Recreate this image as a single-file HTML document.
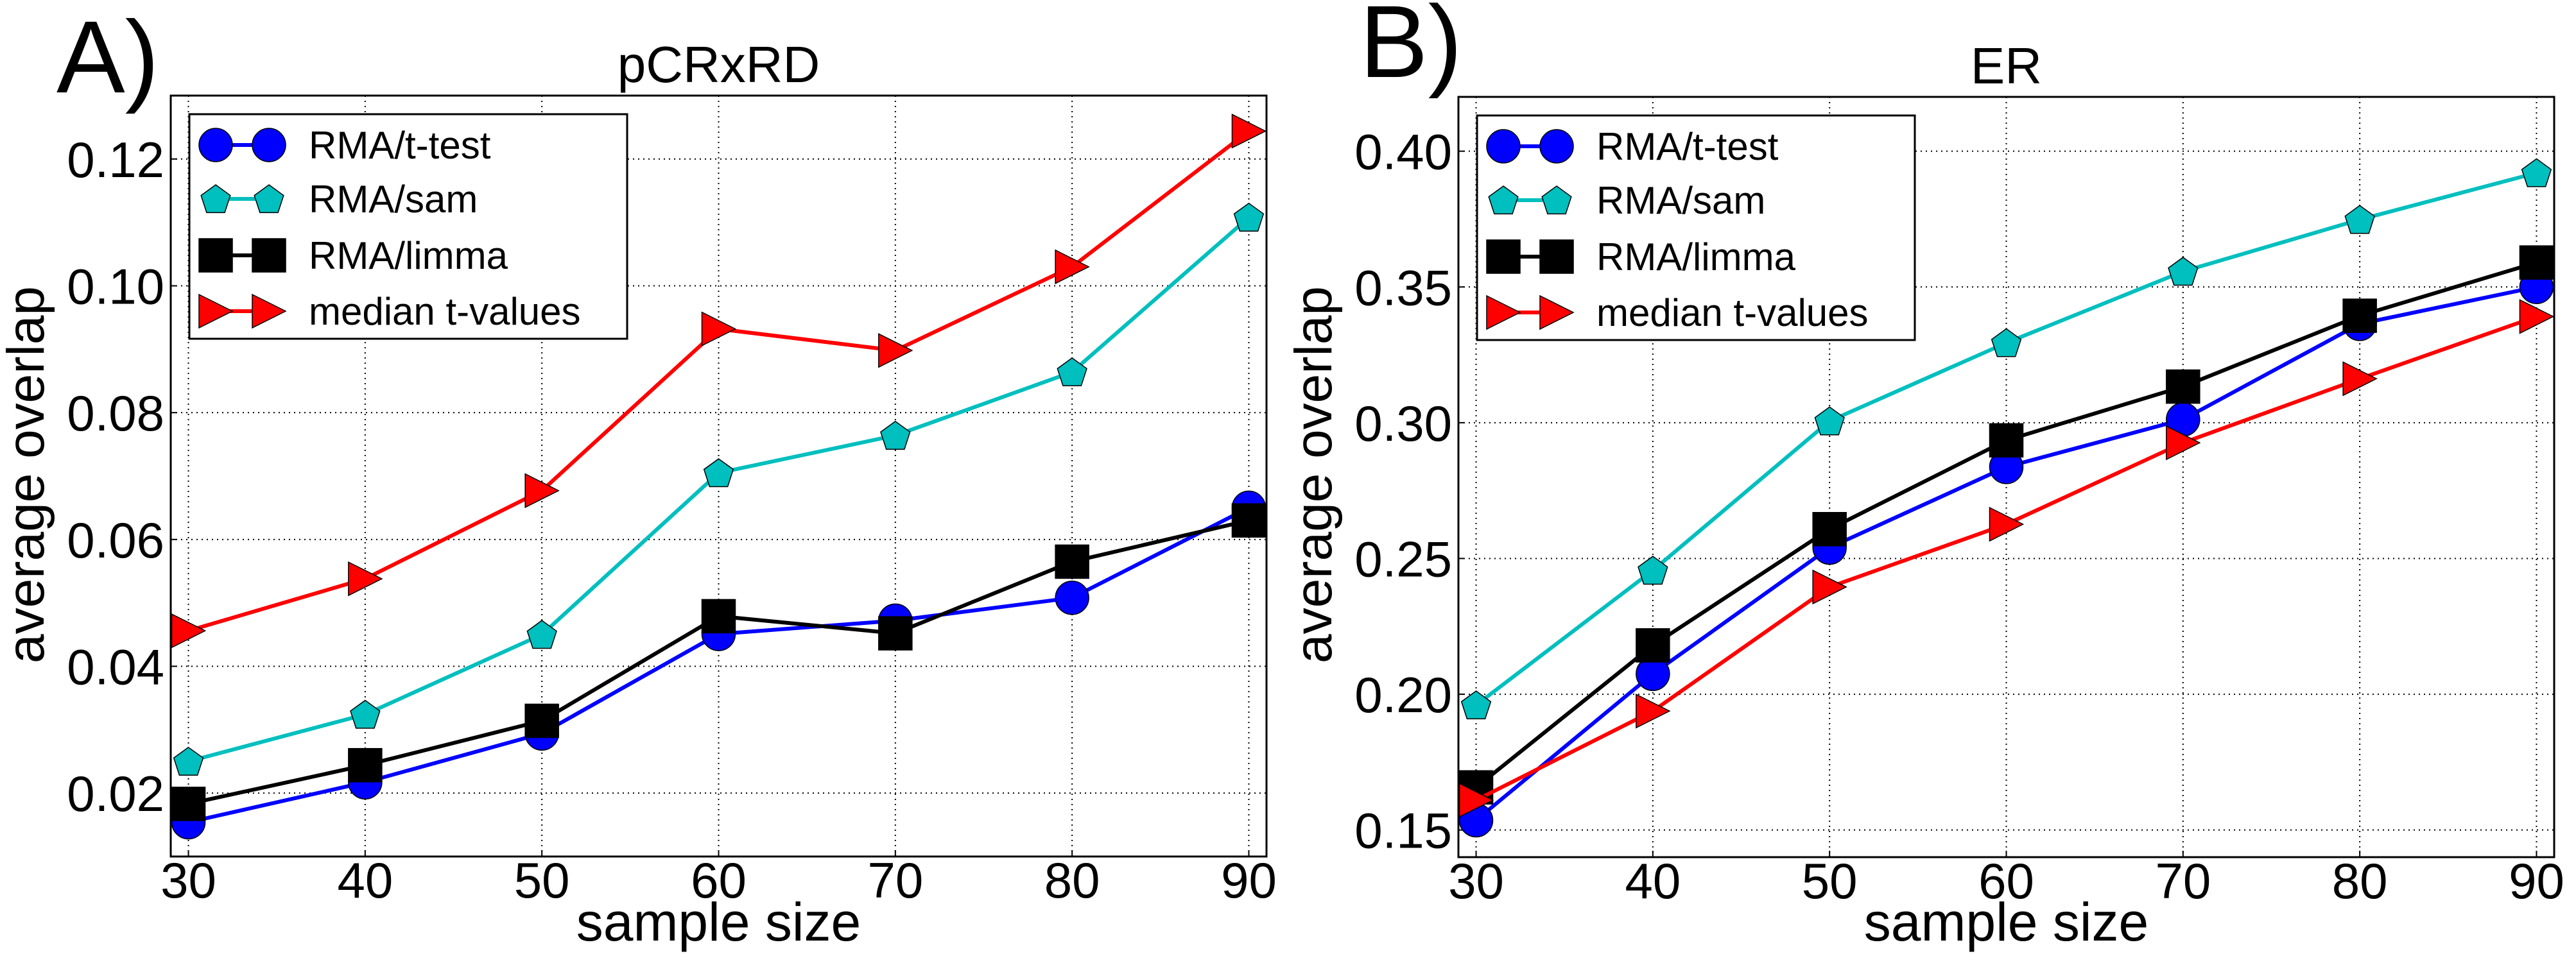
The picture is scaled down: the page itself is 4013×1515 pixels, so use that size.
<!DOCTYPE html>
<html><head><meta charset="utf-8">
<style>
html,body{margin:0;padding:0;background:#fff;}
svg{display:block;font-family:"Liberation Sans","DejaVu Sans",sans-serif;}
</style></head>
<body>
<svg id="fig" width="4013" height="1515" viewBox="0 0 4013 1515" xmlns="http://www.w3.org/2000/svg"></svg>
<script>
const xCats = [30, 40, 50, 60, 70, 80, 90];
const seriesNames = ["RMA/t-test", "RMA/sam", "RMA/limma", "median t-values"];
const aTtest = [0.0154, 0.0217, 0.0294, 0.0451, 0.0472, 0.0508, 0.0650];
const aSam = [0.0250, 0.0324, 0.0450, 0.0705, 0.0764, 0.0864, 0.1108];
const aLimma = [0.0183, 0.0244, 0.0314, 0.0479, 0.0452, 0.0565, 0.0630];
const aMedian = [0.0456, 0.0538, 0.0677, 0.0932, 0.0898, 0.1030, 0.1244];
const bTtest = [0.1536, 0.2075, 0.2540, 0.2837, 0.3012, 0.3364, 0.3500];
const bSam = [0.1960, 0.2456, 0.3006, 0.3294, 0.3557, 0.3748, 0.3920];
const bLimma = [0.1657, 0.2180, 0.2608, 0.2935, 0.3133, 0.3394, 0.3590];
const bMedian = [0.1610, 0.1938, 0.2395, 0.2626, 0.2926, 0.3162, 0.3391];
const aYTicks = ["0.02", "0.04", "0.06", "0.08", "0.10", "0.12"];
const bYTicks = ["0.15", "0.20", "0.25", "0.30", "0.35", "0.40"];

const NS = "http://www.w3.org/2000/svg";
const svg = document.getElementById("fig");
function mk(tag, parent, attrs) {
  const e = document.createElementNS(NS, tag);
  for (const k in attrs) e.setAttribute(k, attrs[k]);
  parent.appendChild(e);
  return e;
}
const styles = [
  {color: "#0000ff", marker: "circle"},
  {color: "#00bfbf", marker: "pentagon"},
  {color: "#000000", marker: "square"},
  {color: "#ff0000", marker: "triangle"}
];
function drawMarker(g, type, cx, cy, color) {
  const r = 26;
  let el;
  if (type === "circle") {
    el = mk("ellipse", g, {cx: cx, cy: cy, rx: r, ry: r, fill: color, stroke: "#000", "stroke-width": 1.5});
  } else if (type === "square") {
    el = mk("rect", g, {x: cx - r, y: cy - r, width: 2 * r, height: 2 * r, fill: color, stroke: "#000", "stroke-width": 1.5});
  } else if (type === "pentagon") {
    const pts = [];
    for (let i = 0; i < 5; i++) {
      const a = -Math.PI / 2 + i * 2 * Math.PI / 5;
      pts.push((cx + 24 * Math.cos(a)).toFixed(1) + "," + (cy + 2 + 24 * Math.sin(a)).toFixed(1));
    }
    el = mk("polygon", g, {points: pts.join(" "), fill: color, stroke: "#000", "stroke-width": 1.5});
  } else {
    el = mk("polygon", g, {points: (cx - r) + "," + (cy - r) + " " + (cx + r) + "," + cy + " " + (cx - r) + "," + (cy + r), fill: color, stroke: "#000", "stroke-width": 1.5});
  }
  return el;
}

function panel(cfg) {
  const g = mk("g", svg, {});
  
  
  const L = cfg.left, R = cfg.right, T = cfg.top, B = cfg.bottom;
  const xs = v => L + (v - 29) / 62 * (R - L);
  const ys = v => B - (v - cfg.ymin) / (cfg.ymax - cfg.ymin) * (B - T);
  // grid
  const grid = mk("g", g, {stroke: "#000", "stroke-width": 2, "stroke-dasharray": "2,6"});
  
  
  xCats.forEach(v => mk("line", grid, {x1: xs(v), x2: xs(v), y1: T, y2: B}));
  cfg.yticks.forEach(t => mk("line", grid, {x1: L, x2: R, y1: ys(parseFloat(t)), y2: ys(parseFloat(t))}));
  // tick labels
  xCats.forEach(v => {
    const t = mk("text", g, {x: xs(v), y: B + 64, "font-size": 78, "text-anchor": "middle"});
    
    
    t.textContent = v;
    mk("line", g, {x1: xs(v), x2: xs(v), y1: B, y2: B - 10, stroke: "#000", "stroke-width": 2});
  });
  cfg.yticks.forEach(s => {
    const y = ys(parseFloat(s));
    const t = mk("text", g, {x: L - 10, y: y + 28, "font-size": 78, "text-anchor": "end"});
    
    
    t.textContent = s;
    mk("line", g, {x1: L, x2: L + 10, y1: y, y2: y, stroke: "#000", "stroke-width": 2});
  });
  // series
  cfg.series.forEach((vals, i) => {
    const sg = mk("g", g, {});
    
    
    const pts = vals.map((v, j) => xs(xCats[j]) + "," + ys(v)).join(" ");
    mk("polyline", sg, {points: pts, fill: "none", stroke: styles[i].color, "stroke-width": 6, "stroke-linejoin": "round"});
    vals.forEach((v, j) => {
      const m = drawMarker(sg, styles[i].marker, xs(xCats[j]), ys(v), styles[i].color);
      
      
    });
  });
  // frame
  const fr = mk("rect", g, {x: L, y: T, width: R - L, height: B - T, fill: "none", stroke: "#000", "stroke-width": 3});
  
  
  // legend
  const lg = mk("g", g, {});
  
  
  const lx = L + 29, ly = T + 29;
  mk("rect", lg, {x: lx, y: ly, width: 682, height: 350, fill: "#fff", stroke: "#000", "stroke-width": 3});
  const rows = [48, 132, 220, 307];
  seriesNames.forEach((nm, i) => {
    const eg = mk("g", lg, {});
    
    
    const cy = ly + rows[i];
    mk("line", eg, {x1: lx + 41, x2: lx + 124, y1: cy, y2: cy, stroke: styles[i].color, "stroke-width": 6});
    drawMarker(eg, styles[i].marker, lx + 41, cy, styles[i].color);
    drawMarker(eg, styles[i].marker, lx + 124, cy, styles[i].color);
    const t = mk("text", eg, {x: lx + 186, y: cy + 21, "font-size": 60});
    t.textContent = nm;
  });
  // labels
  const ti = mk("text", g, {x: (L + R) / 2, y: cfg.titleY, "font-size": 80, "text-anchor": "middle"});
  
  
  ti.textContent = cfg.title;
  const xl = mk("text", g, {x: (L + R) / 2, y: 1466, "font-size": 84, "text-anchor": "middle"});
  
  
  xl.textContent = "sample size";
  const yl = mk("text", g, {x: 0, y: 0, "font-size": 82, "text-anchor": "middle", transform: "translate(" + (cfg.left - 198) + ",740) rotate(-90)"});
  
  
  yl.textContent = "average overlap";
  const pl = mk("text", g, {x: cfg.letterX, y: cfg.letterY, "font-size": 160});
  
  
  pl.textContent = cfg.letter;
}

panel({name: "panel-a", left: 266, right: 1973, top: 149, bottom: 1335, ymin: 0.01, ymax: 0.13,
  yticks: aYTicks, series: [aTtest, aSam, aLimma, aMedian], title: "pCRxRD", titleY: 128,
  letter: "A)", letterX: 88, letterY: 144});
panel({name: "panel-b", left: 2272, right: 3979, top: 151, bottom: 1336, ymin: 0.14, ymax: 0.42,
  yticks: bYTicks, series: [bTtest, bSam, bLimma, bMedian], title: "ER", titleY: 130,
  letter: "B)", letterX: 2118, letterY: 120});
</script>
</body></html>
